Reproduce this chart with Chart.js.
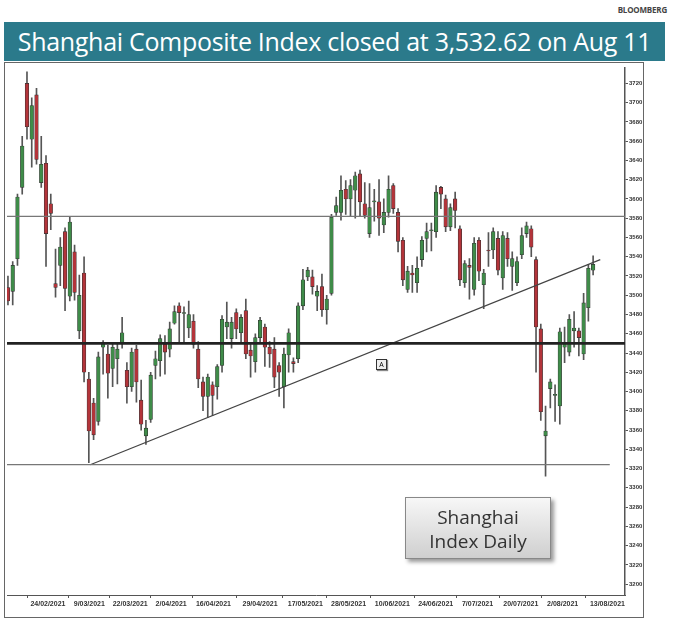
<!DOCTYPE html>
<html><head><meta charset="utf-8">
<script src="https://cdn.jsdelivr.net/npm/chart.js@4.4.0/dist/chart.umd.min.js"></script>
<style>
body{margin:0;width:675px;height:626px;background:#fff;position:relative;overflow:hidden;font-family:"Open Sans",sans-serif}
#src{position:absolute;right:8px;top:4px;font-size:8px;color:#444;font-weight:bold;letter-spacing:-0.2px}
#banner{position:absolute;left:4px;top:22px;width:661px;height:39px;background:#2b7a8b;color:#fff;font-size:25px;line-height:39px;text-align:center;white-space:nowrap;letter-spacing:-0.3px}
#wrap{position:absolute;left:4px;top:62px;width:640px;height:556px;border:1px solid #666;box-sizing:border-box}
#box{position:absolute;left:405px;top:497px;width:146px;height:62px;border:1px solid #888;background:linear-gradient(#f7f7f7,#cfcfcf);box-shadow:3px 3px 4px #999;text-align:center;font-size:19px;line-height:24px;color:#333;padding-top:7px;box-sizing:border-box}
#mk{position:absolute;left:376px;top:359px;width:9px;height:9px;border:1px solid #333;font-size:7px;line-height:9px;text-align:center;background:#eee;box-shadow:1px 1px 1px #888}
</style></head><body>
<div id="src">BLOOMBERG</div>
<div id="banner">Shanghai Composite Index closed at 3,532.62 on Aug 11</div>
<div id="wrap"><canvas id="c" width="638" height="554"></canvas></div>
<div id="mk">A</div>
<div id="box">Shanghai<br>Index Daily</div>
<script>
const opens=[3508,3504,3538,3612,3720,3662,3708,3617,3637,3595,3512,3531,3566,3499,3545,3463,3523,3413,3388,3369,3446,3439,3424,3434,3451,3422,3405,3444,3391,3354,3371,3427,3432,3449,3444,3471,3489,3481,3466,3473,3444,3410,3395,3407,3405,3427,3467,3455,3482,3461,3484,3443,3431,3456,3467,3446,3444,3427,3405,3438,3431,3434,3489,3519,3519,3499,3509,3485,3502,3586,3586,3610,3600,3609,3626,3595,3564,3597,3597,3573,3586,3614,3586,3557,3506,3523,3513,3537,3559,3567,3566,3612,3600,3571,3600,3569,3513,3531,3506,3557,3511,3547,3547,3559,3518,3559,3530,3513,3542,3564,3569,3537,3465,3354,3403,3396,3385,3446,3441,3463,3463,3439,3487,3526];
const highs=[3520,3535,3605,3665,3732,3705,3715,3665,3645,3605,3548,3560,3570,3582,3552,3521,3540,3420,3393,3441,3453,3448,3449,3450,3477,3430,3445,3448,3412,3370,3420,3442,3459,3458,3472,3489,3492,3488,3494,3480,3452,3415,3418,3410,3428,3479,3493,3477,3486,3480,3496,3450,3460,3477,3470,3452,3456,3430,3445,3465,3435,3492,3527,3529,3526,3510,3522,3500,3584,3602,3624,3619,3620,3628,3630,3617,3616,3610,3620,3600,3624,3616,3590,3560,3530,3531,3540,3561,3575,3575,3614,3613,3604,3595,3607,3572,3536,3538,3560,3560,3527,3565,3570,3566,3566,3565,3545,3540,3570,3576,3572,3540,3470,3385,3413,3407,3466,3467,3480,3483,3466,3502,3532,3541];
const lows=[3490,3490,3531,3605,3662,3633,3636,3612,3530,3568,3498,3510,3484,3494,3495,3455,3410,3326,3350,3365,3418,3393,3405,3408,3445,3388,3400,3389,3360,3345,3368,3413,3416,3418,3436,3470,3450,3451,3456,3445,3404,3380,3373,3375,3392,3420,3455,3445,3455,3450,3434,3415,3420,3450,3426,3425,3404,3395,3383,3420,3420,3430,3485,3515,3501,3484,3478,3470,3500,3583,3578,3584,3582,3580,3582,3580,3560,3577,3562,3565,3581,3585,3545,3510,3503,3503,3503,3530,3545,3546,3560,3590,3566,3567,3570,3510,3508,3496,3500,3515,3486,3530,3538,3521,3506,3530,3505,3510,3538,3560,3540,3420,3370,3312,3383,3369,3366,3430,3437,3446,3437,3433,3473,3521];
const closes=[3494,3531,3602,3655,3675,3697,3641,3636,3564,3585,3508,3550,3507,3576,3503,3500,3420,3359,3355,3436,3451,3419,3446,3444,3461,3405,3441,3410,3366,3362,3417,3434,3455,3441,3465,3483,3482,3482,3480,3449,3413,3395,3415,3396,3426,3475,3472,3472,3465,3477,3439,3437,3456,3474,3446,3439,3415,3420,3439,3461,3429,3489,3516,3526,3509,3504,3485,3496,3581,3593,3609,3600,3614,3624,3597,3583,3591,3598,3580,3586,3610,3590,3556,3516,3525,3521,3528,3557,3566,3567,3607,3605,3571,3591,3588,3516,3533,3529,3554,3525,3523,3546,3566,3526,3562,3538,3538,3535,3562,3572,3550,3467,3379,3359,3410,3397,3462,3450,3475,3466,3456,3492,3528,3532];
const dateLabels=["24/02/2021","9/03/2021","22/03/2021","2/04/2021","16/04/2021","29/04/2021","17/05/2021","28/05/2021","10/06/2021","24/06/2021","7/07/2021","20/07/2021","2/08/2021","13/08/2021"];
const dateIdx=[8.4,17.1,25.7,34.3,43.2,53,62.5,71.6,80.8,89.9,98.7,107.8,116.6,126];
const resistance=3582, pivot=3450, support=3324;
const trend=[{x:17.3,y:3324},{x:124.5,y:3537}];

const idx=opens.map((_,i)=>i);
const up=idx.map(i=>closes[i]>=opens[i]);
const bodyCol=idx.map(i=>up[i]?'#3f8c49':'#b3343a');
const wick={type:'bar',data:idx.map(i=>({x:i,y:[lows[i],highs[i]]})),backgroundColor:'#555',barThickness:1,grouped:false,order:3};
const body={type:'bar',data:idx.map(i=>{const lo=Math.min(opens[i],closes[i]);let hi=Math.max(opens[i],closes[i]);if(hi===lo)hi+=1;return {x:i,y:[lo,hi]};}),backgroundColor:bodyCol,borderColor:'#333',borderWidth:0.6,borderSkipped:false,barThickness:3.6,grouped:false,order:2};
const hl=(v,x1,w,c)=>({type:'line',data:[{x:-0.2,y:v},{x:x1,y:v}],borderColor:c,borderWidth:w,pointRadius:0,order:1});
new Chart(document.getElementById('c'),{
 type:'bar',
 data:{datasets:[wick,body,hl(resistance,129.7,1.2,'#777'),hl(pivot,129.7,2.6,'#222'),hl(support,126.5,1.2,'#777'),
  {type:'line',data:trend,borderColor:'#444',borderWidth:1.2,pointRadius:0,order:1}]},
 options:{responsive:false,animation:false,events:[],
  layout:{padding:{left:2,right:0,top:0,bottom:0}},
  plugins:{legend:{display:false},tooltip:{enabled:false}},
  scales:{
   x:{type:'linear',min:-0.2,max:129.7,offset:false,
     afterBuildTicks:s=>{s.ticks=dateIdx.map(v=>({value:v}));},
     afterFit:s=>{s.height=22;},
     ticks:{callback:(v,i)=>dateLabels[i],maxRotation:0,autoSkip:false,font:{size:7,weight:'bold',family:'Liberation Sans'},color:'#333',padding:2},
     grid:{drawOnChartArea:false,tickLength:3,color:'#555'},border:{color:'#555'}},
   y:{position:'right',min:3188.7,max:3736.4,
     afterBuildTicks:s=>{const t=[];for(let v=3200;v<=3720;v+=20)t.push({value:v});s.ticks=t;},
     afterFit:s=>{s.width=18;},
     ticks:{callback:v=>String(v),font:{size:6,weight:'bold',family:'Liberation Sans'},color:'#333',padding:1},
     grid:{drawOnChartArea:false,tickLength:3,color:'#555'},border:{color:'#555',width:1.5}}
  }}
});
</script></body></html>
